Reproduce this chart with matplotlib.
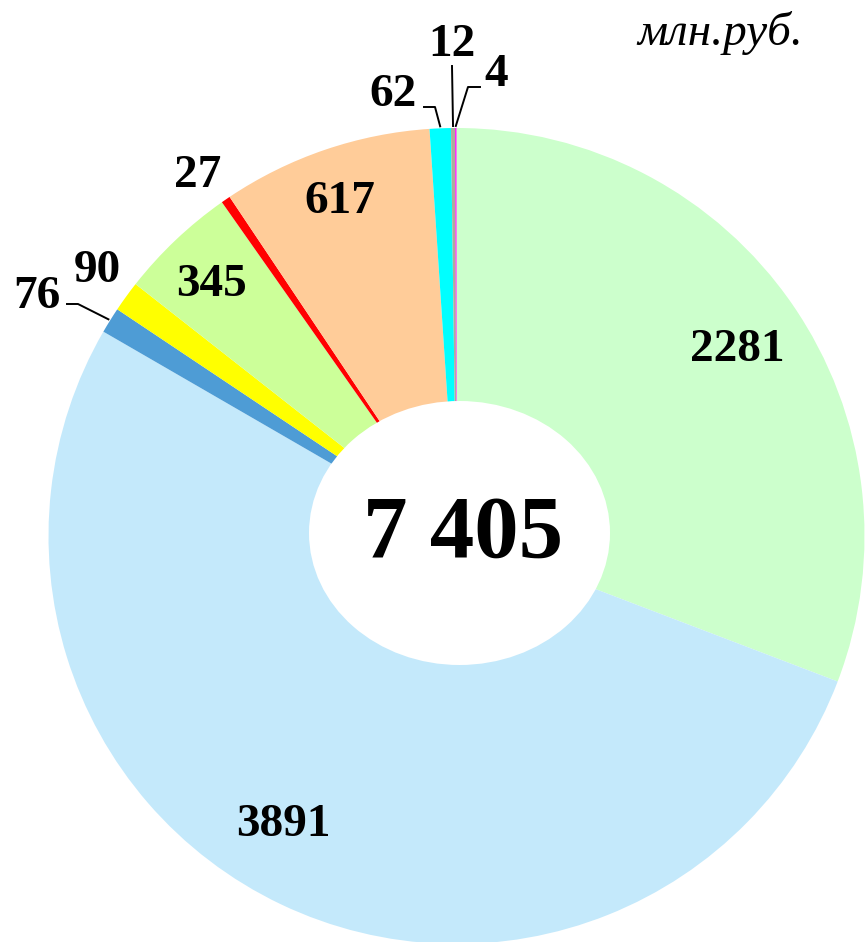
import numpy as np
import matplotlib
matplotlib.use('Agg')
import matplotlib.pyplot as plt
from matplotlib.patches import Ellipse

# values, clockwise from 12 o'clock
values = [2281, 3891, 76, 90, 345, 27, 617, 62, 12, 4]
labels = ['2281', '3891', '76', '90', '345', '27', '617', '62', '12', '4']
colors = ['#CCFFCC', '#C4E9FB', '#4E9CD5', '#FFFF00', '#CCFF99',
          '#FF0000', '#FFCC99', '#00FFFF', '#ADAD9A', '#FF00FF']
total_text = '7 405'
unit_text = 'млн.руб.'

W, H = 866, 942
fig = plt.figure(figsize=(W / 100, H / 100), dpi=100)
ax = fig.add_axes([0, 0, 1, 1])

cx, cy, R = 456.5, H - 536, 408
wedges, _ = ax.pie(values, colors=colors, startangle=90, counterclock=False,
                   center=(cx, cy), radius=R, frame=True,
                   wedgeprops=dict(linewidth=0))
ax.set_xlim(0, W)
ax.set_ylim(0, H)
ax.set_aspect('equal')
ax.axis('off')

# white hole in the middle
ax.add_patch(Ellipse((459.5, H - 533), 301, 264, facecolor='white',
                     edgecolor='none', zorder=5))
ax.text(463, H - 535, total_text, ha='center', va='center', fontsize=64,
        fontweight='bold', family='Liberation Serif', zorder=6)

# label positions (pixel coords, y from top)
pos = {'2281': (737, 350), '3891': (283, 825), '76': (37, 297),
       '90': (97, 271), '345': (211, 285), '27': (198, 176),
       '617': (340, 202), '62': (393, 95), '12': (452, 45), '4': (496, 75)}
for lab in labels:
    x, y = pos[lab]
    ax.text(x, H - y, lab, ha='center', va='center', fontsize=34,
            fontweight='bold', family='Liberation Serif', zorder=6)


def edge_point(i, r=R):
    w = wedges[i]
    a = np.deg2rad((w.theta1 + w.theta2) / 2)
    return cx + r * np.cos(a), cy + r * np.sin(a)


# leader lines: label side -> knee -> wedge edge
leaders = {2: [(67, 304), (78, 304)], 7: [(424, 107), (435, 107)],
           8: [(452, 66)], 9: [(480, 87), (468, 87)]}
for i, pts in leaders.items():
    ex, ey = edge_point(i, R + 2)
    xs = [p[0] for p in pts] + [ex]
    ys = [H - p[1] for p in pts] + [ey]
    ax.plot(xs, ys, color='black', lw=1.4, zorder=6)

ax.text(720, H - 33, unit_text, ha='center', va='center', fontsize=34,
        style='italic', family='Liberation Serif')

fig.savefig('out.png', dpi=100)
